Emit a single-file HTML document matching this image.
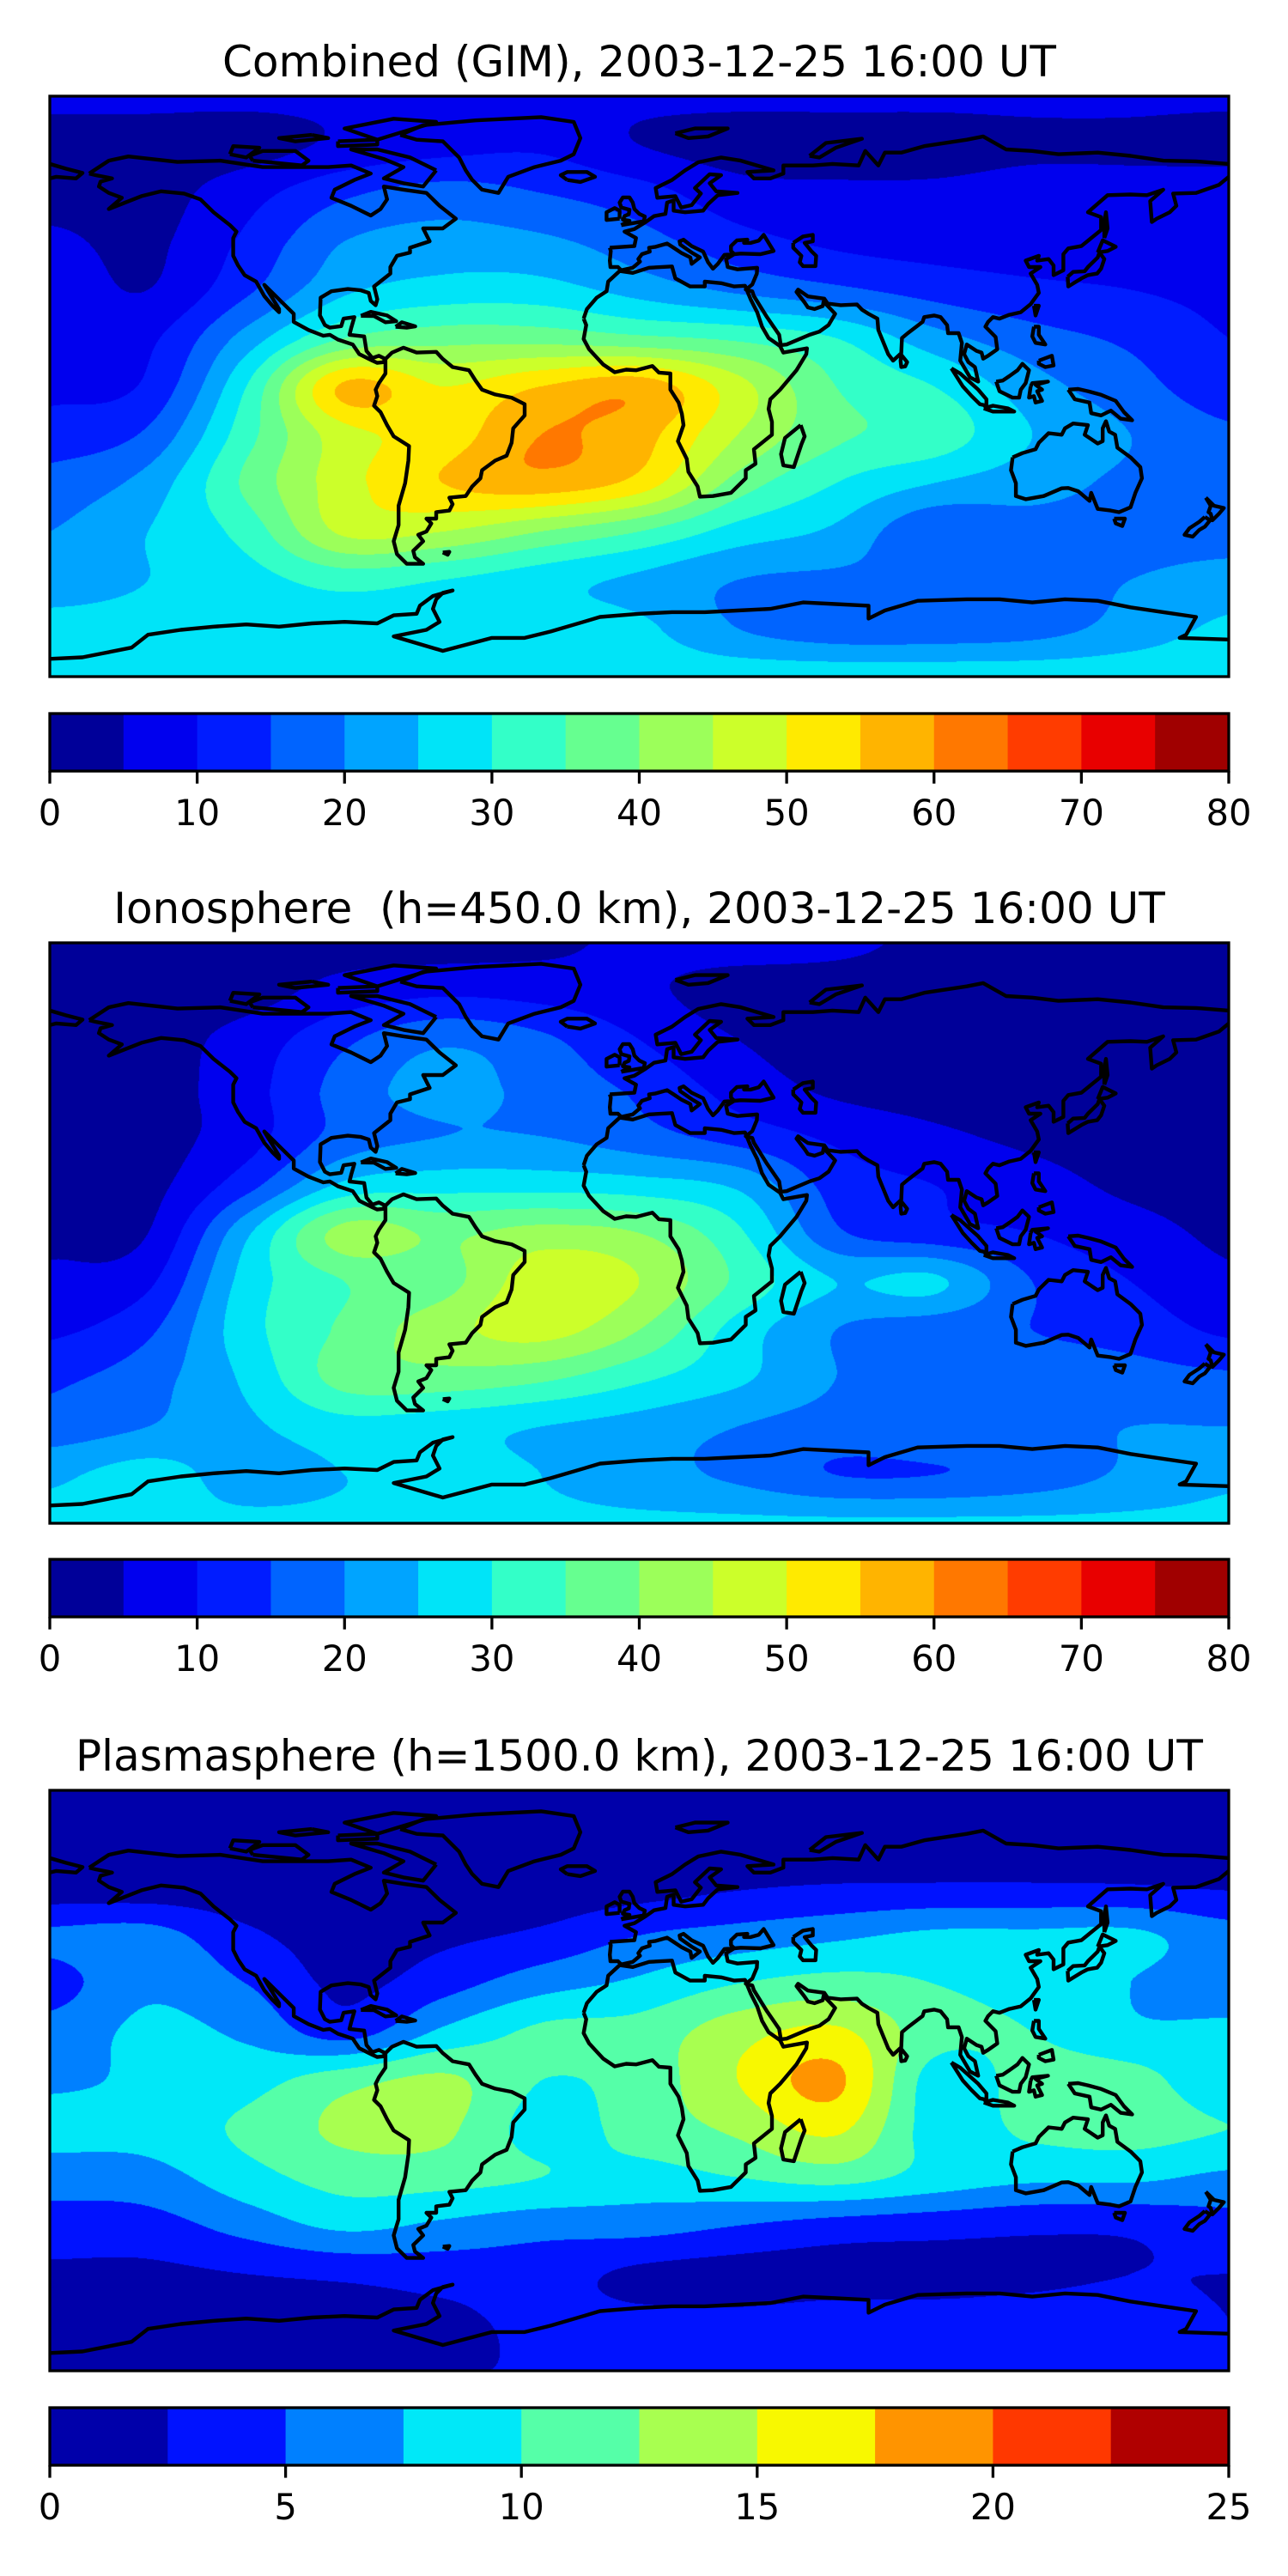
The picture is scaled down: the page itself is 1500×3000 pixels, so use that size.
<!DOCTYPE html>
<html><head><meta charset="utf-8"><title>TEC maps</title>
<style>
html,body{margin:0;padding:0;background:#fff;}
#fig{position:relative;width:1500px;height:3000px;overflow:hidden;background:#fff;font-family:"DejaVu Sans","Liberation Sans",sans-serif;}
.title{position:absolute;left:0;width:1489px;text-align:center;font-size:50px;line-height:50px;color:#000;white-space:pre;}
canvas.map{position:absolute;left:58px;width:1373px;height:676px;}
svg.ov{position:absolute;left:0;top:0;}
</style></head>
<body>
<div id="fig">
  <div class="title" style="top:47px">Combined (GIM), 2003-12-25 16:00 UT</div>
  <div class="title" style="top:1033px">Ionosphere  (h=450.0 km), 2003-12-25 16:00 UT</div>
  <div class="title" style="top:2020px">Plasmasphere (h=1500.0 km), 2003-12-25 16:00 UT</div>
  <canvas id="c1" class="map" width="1373" height="676" style="top:112px"></canvas>
  <canvas id="c2" class="map" width="1373" height="676" style="top:1098px"></canvas>
  <canvas id="c3" class="map" width="1373" height="676" style="top:2085px"></canvas>
  <svg id="ov" class="ov" width="1500" height="3000"></svg>
</div>
<script>
// ---- grid axes ----
const lats=[90,75,60,45,30,15,0,-15,-30,-45,-60,-75,-90];
const lons=[-180,-150,-120,-90,-60,-30,0,30,60,90,120,150,180];
// ---- combined field (TECU) ----
const tecCombined=[
[6,6,6,6,6,6,6,6,6,6,6,6,6],
[3,3,3,6,8,9,5,3,3,3,4,4,3],
[3,3,8,14,17,15,12,7,6,6,7,7,8],
[6,4,11,20,22,21,17,12,9,8,8,9,9],
[8,5,14,24,27,27,23,19,16,13,11,10,9],
[8,9,22,35,38,38,36,34,30,22,17,14,10],
[9,11,30,56,50,55,58,47,35,30,22,17,12],
[12,16,33,48,52,60,57,45,36,33,25,20,16],
[17,22,36,48,55,58,53,38,30,25,22,19,18],
[20,25,32,46,45,40,35,28,24,16,18,18,18],
[22,25,28,32,30,27,24,20,19,19,18,20,22],
[27,27,27,27,27,27,26,20,17,17,18,22,26],
[28,28,28,28,28,28,28,28,28,28,28,28,28]];
// ---- ionosphere field (TECU) ----
const tecIono=[
[3,3,3,3,3,4,6,7,6,4,3,3,3],
[3,3,3,7,9,8,6,3,3,3,3,3,3],
[3,3,7,14,19,16,10,5,3,3,3,3,3],
[3,3,8,17,22,18,14,8,4,3,3,3,3],
[3,3,8,17,20,20,17,13,9,6,4,3,3],
[3,3.5,13,26,28,28,27,24,13,10,7,4,3],
[4,5,24,42,39,42,40,31,16,12,10,7,4],
[6,9,27,35,38,48,45,34,25,26,15,10,6],
[9,14,28,36,43,47,40,28,20,17,15,13,9],
[14,18,26,37,38,36,31,26,20,16,17,17,16],
[17,20,24,28,27,25,23,20,18,19,18,20,20],
[24,27,23,25,27,25,22,19,15,15,17,21,24],
[26,26,26,26,26,26,26,26,26,26,26,26,26]];
// ---- plasmasphere field (TECU) ----
const tecPlasma=[
[1,1,1,1,1,1,1,1,1,1,1,1,1],
[1,1,1,1,1,1,1,1,1,1,1,1,1],
[1,1,1,1,1,1,1.5,2.3,2.7,2.8,2.8,2.7,2.3],
[5.5,6,3,1.5,2,3,5,6,7,8,8,8,6],
[4,7,5,2,4,6.5,8,10,11,10,9,7.5,6],
[6,8,7,4,8,10.5,11,14,15.5,11,10,8,8],
[7,8,9,11.5,13,10,11,15,18,9,11,11,8],
[8.5,8.5,10.5,13,13,9,11,13,15.5,9,10.5,11,10],
[6,6.5,9,11,11,10,9,10,11,9,8,8,7],
[4,4,6,8,7,6,6,5,4,3.5,3,3,4],
[2,2,2.5,3,3.5,3.5,2,1.5,1.5,1.5,2,2.5,2.5],
[1.5,1.5,1.5,1.5,2,3,3,3,3.5,3.5,3.5,3.5,2.5],
[2.5,2.5,2.5,2.5,2.5,2.5,2.5,2.5,2.5,2.5,2.5,2.5,2.5]];
// ---- colour levels ----
const levelsTec=[0,5,10,15,20,25,30,35,40,45,50,55,60,65,70,75,80];
const colorsTec=["#000099","#0000ee","#001cff","#0064ff","#00a4ff","#00e4f8","#33ffc8","#66ff90","#9cff5a","#ccff2a","#ffea00","#ffb400","#ff7800","#ff3c00","#e80000","#a00000"];
const ticksTec=[0,10,20,30,40,50,60,70,80];
const levelsPl=[0,2.5,5,7.5,10,12.5,15,17.5,20,22.5,25];
const colorsPl=["#0000aa","#0012ff","#0080ff","#00e8f8","#55ffa8","#a8ff50","#f8f800","#ff9400","#ff3800","#b00000"];
const ticksPl=[0,5,10,15,20,25];
// ---- coastlines (lon,lat) ----
const coasts=[
[[-168,66],[-162,70],[-156,71.3],[-141,69.6],[-128,70],[-115,68],[-95,68],[-88,68.5],[-82,66],[-87,64],[-93,61],[-94,58.5],[-88,56],[-82,53],[-79,55],[-77,58],[-78,62],[-72,61],[-65,60],[-61,56],[-56,52],[-60,49],[-66,49],[-64,45],[-70,43],[-70,41.5],[-74,40.5],[-76,37],[-76,35],[-81,31],[-80,27],[-80.5,25.2],[-82,26.5],[-82.6,29],[-85,29.8],[-89,30.2],[-94,29.5],[-97.3,27.5],[-97.5,22],[-96,19],[-94.5,18.2],[-91,18.7],[-90.3,21],[-87,21.5],[-88,18],[-88.5,16],[-84,15.5],[-83.3,11],[-81.5,8.8],[-79.5,9.5],[-77.5,8.5],[-78.2,7.5],[-80,7.3],[-81.5,8],[-85.5,10],[-87.5,13],[-92,14.5],[-94.5,16],[-96.5,15.7],[-101,17.5],[-105.5,20],[-105.5,22.5],[-109,26],[-112,29],[-114.5,31.5],[-113,29],[-110,24],[-110,23],[-112,25],[-114.5,28],[-117,32.5],[-120.5,34.5],[-122.5,37.5],[-124,40.5],[-124,46],[-123,48],[-125,50],[-130,54],[-134,58],[-139,59.8],[-146,60.5],[-152,59],[-157,57],[-162,55],[-158,58.5],[-162,60],[-165,62],[-164.5,63.5],[-161,64.5],[-166,65.5],[-168,66]],
[[-73,78],[-66,81],[-50,82.5],[-30,83.5],[-20,82],[-18,77],[-20,72],[-24,70],[-32,68],[-40,65],[-43,60],[-48,61],[-51,64],[-53,67],[-55,71],[-60,76],[-68,76.5],[-73,78]],
[[-62,67],[-66,62],[-72,63],[-78,64.5],[-72,68],[-78,70.5],[-88,73.5],[-80,73.5],[-70,71],[-62,67]],
[[-80,76.5],[-90,80],[-75,83],[-62,82],[-72,79],[-80,76.5]],
[[-118,70],[-103,68.5],[-101,70],[-105,73],[-115,73],[-119,71.5],[-118,70]],
[[-125,72],[-120,71],[-116,74],[-124,74.5],[-125,72]],
[[-92,76],[-80,76.5],[-80,75],[-92,74.5],[-92,76]],
[[-100,78],[-95,77],[-105,76],[-110,77],[-100,78]],
[[-77.5,8.5],[-75.5,10.5],[-72,12],[-68,10.5],[-62,10.7],[-60,8.5],[-57,6],[-52,5],[-50,1.8],[-48,-1],[-44,-2.5],[-39,-3.5],[-35,-5.5],[-35,-9],[-38.5,-13],[-39,-17.5],[-40.5,-21.5],[-44,-23],[-48,-26],[-48.5,-28.5],[-51,-31],[-53,-34],[-58,-34.5],[-57,-36.5],[-58,-38.5],[-62,-39],[-62,-41],[-65,-41],[-63.5,-42.5],[-65,-45],[-67.5,-46],[-66,-48],[-69,-51],[-68.5,-53],[-66,-55],[-71,-55],[-74,-52],[-75,-48],[-73.5,-43],[-73.5,-37],[-71.5,-30],[-70.5,-23],[-70.3,-18.5],[-75,-15.5],[-77,-12],[-79,-8],[-81,-6],[-80,-3],[-80.5,-1],[-79.5,1],[-77.5,4],[-77.5,7],[-77.5,8.5]],
[[-17,21],[-16,24],[-13,27.5],[-10,29.5],[-9.5,32.5],[-6,35.8],[-2,35.2],[3,36.8],[10,37.2],[11,33.5],[15.5,31],[20,31],[20,32.5],[25,32],[29,31],[32.3,31.2],[34,27],[36,23],[37.5,18.5],[39.5,15],[43,12.5],[44,10.5],[51.2,11.8],[51,10],[48,5],[43,-1],[40,-4],[39.5,-7],[40.5,-11],[40.5,-15],[35,-19.5],[35.5,-24],[32.5,-26],[32.5,-28.5],[28,-33],[22.5,-34],[18.5,-34.2],[17.8,-31],[15,-26.5],[14.5,-22.5],[11.8,-17],[13.5,-12],[13,-8.5],[12,-5],[9.5,-1],[9.5,4],[6,4.3],[4,6.3],[-1,5],[-4,5.2],[-7.5,4.4],[-11,6.8],[-13.5,9.5],[-15.3,11.5],[-17,14.7],[-16.2,19],[-17,21]],
[[49.3,-12],[50.5,-15.5],[49.5,-18],[47.2,-25],[44,-24.5],[43.3,-21],[44.5,-16],[49.3,-12]],
[[-9,43],[-1.5,43.5],[-1,46],[-4.5,48],[-1.5,48.8],[2,51],[4.5,52.8],[8,53.5],[8.5,57],[10.5,57.7],[10.5,54.5],[14,54],[19.5,54.5],[21,56.5],[24,59.3],[30,60],[23.5,60.5],[21.5,63],[25,65.5],[21.5,65.8],[17,61.5],[18.8,59.8],[16,56.2],[12.8,55.5],[11,59],[5.5,58.5],[5,61.5],[10,64],[14,67],[18,69.5],[25,71],[31,70],[41,67],[33,66.5],[35,64.5],[40,64.5],[44,66],[44,68.5],[53,68.5],[59,69],[67,68.5],[69,73],[73,68.5],[75,72.5],[80,72.5],[87,74.5],[100,76.5],[105,77.5],[112,73.5],[120,73],[128,72],[140,72.5],[150,71.5],[160,70],[170,69.8],[180,69]],
[[180,65],[177,62.5],[170,60],[163,59.8],[164,56],[162,54],[158,52],[156.5,51],[156,57.5],[160,61],[155,59.3],[150,59.5],[143,59.3],[137,54],[141,52.5],[141,48.5],[135,43.5],[131,42.8],[129.5,41],[129.5,36],[126.5,34.5],[126.5,37.5],[125,39.5],[121.5,39],[122,40.5],[118,39],[119,37],[122.5,37],[119.5,35],[121.5,31.5],[122,29],[119.5,25.5],[116.5,23],[113,22.2],[110,21],[108,21.5],[106.5,20],[105.7,18.5],[108.8,15.3],[109.3,11.5],[106.5,9.5],[105,8.6],[104.5,10.5],[103,11],[100,13],[99.2,10],[100.5,7.5],[102.5,6],[103.5,1.5],[101,2.8],[98,8],[98.5,13.5],[97.5,16.5],[94.3,16.5],[94,19],[92,21.5],[90,22],[87,21.5],[86.5,20],[82,16.5],[80.2,15],[80,10.3],[77.5,8],[76,10],[73,17.5],[72.7,21],[70,22.5],[68,23.8],[66.5,25.4],[61.5,25.2],[57.5,25.7],[56.5,27.2],[51.5,27.9],[48.5,30],[48,29.3],[50.5,26],[51.5,24.5],[53.5,24],[56,24.9],[56.3,26.3],[59.8,22.5],[57.8,19],[55,17],[52,16],[45,13],[43.2,12.8],[42.7,16],[39,21.5],[35,28],[34.5,29.5],[32.5,30],[34.5,31.6],[35.9,35],[36,36.8],[30,36.3],[27,37],[26.5,39.5],[29,41],[28,42],[28,43.5],[29.8,45.3],[33,45.5],[32,44.5],[34,44.5],[36.5,45.2],[38,47],[41,42],[37,41],[31,41.2],[29,41],[26,40.8],[24,38],[22.5,36.5],[21,38.5],[19.5,41.8],[16,43.5],[13.5,45.5],[12.3,45],[12.5,44],[16,41.5],[18.5,40],[16,38],[15.6,40],[13,41.3],[10.5,43],[8.5,44.3],[5,43.3],[3,43],[3.2,41.8],[0.8,41],[-0.3,39.5],[0.2,38.7],[-2,36.8],[-5.5,36],[-6.5,37],[-8.8,37],[-9,39],[-8.7,42],[-9,43]],
[[-180,69],[-175,67.5],[-170,66.2],[-172,64.5],[-178,65],[-180,64.5]],
[[47,44.5],[50,46.5],[53,47],[53,45],[50.5,44.5],[52.5,42],[54,40.5],[53.8,37.3],[50,37.3],[49,38.5],[49.5,40.5],[47,43],[47,44.5]],
[[-5.5,50],[1.4,51.2],[1.7,52.7],[0,53.5],[-1.5,55],[-2,57],[-3,58.6],[-5,58.6],[-6,57],[-5.5,55.5],[-3,54.8],[-3.2,53.4],[-4.5,52.8],[-5,51.7],[-3,51.4],[-5.5,50]],
[[-6,52],[-6,54.5],[-7.5,55.3],[-10,54],[-10,51.6],[-6,52]],
[[-22,64],[-24,65.5],[-22,66.5],[-16,66.5],[-13.5,65],[-18,63.4],[-22,64]],
[[130.8,34],[132.5,35.5],[136,35.7],[137,37],[140,40],[140.5,41.5],[142,39.5],[141,36.5],[139.8,35],[137,34.5],[135,33.5],[131,31],[130.8,34]],
[[140,41.5],[141.5,45.3],[145.5,43.3],[143,42],[140,41.5]],
[[142,46],[143,49],[142.5,54],[142,51],[142,46]],
[[120.5,18.5],[122,18.5],[122,16],[124,13],[121,13.5],[120,15.5],[120.5,18.5]],
[[122,8],[126,9.5],[126.5,6.5],[124,6],[122,7],[122,8]],
[[120.5,25],[122,25],[121,22],[120.5,25]],
[[109,1.5],[110,-1.5],[114,-3.5],[116,-3.5],[116.5,-1],[118,1],[119,5],[117,7],[115.5,5],[113,3.2],[111,1.8],[109,1.5]],
[[95.3,5.6],[98,4],[103.5,-1],[106,-4],[106,-6],[104,-5.5],[101.5,-3],[98.8,0],[95.3,5.6]],
[[105.2,-6.8],[108,-6],[112.5,-6.8],[114.5,-7.8],[108,-7.8],[105.2,-6.8]],
[[119.5,0],[120,1],[124.8,1.5],[121,0.5],[123,-1],[121.5,-1.5],[123,-4.5],[121,-5],[120.5,-3],[119,-3.5],[119.5,0]],
[[131,-1],[134,-0.8],[137,-1.5],[141,-2.6],[145.5,-4.5],[148,-8],[150.5,-10.5],[147,-10],[144,-7.5],[141,-9],[138,-8.3],[137.5,-5],[133,-4],[132,-2.5],[131,-1]],
[[114,-22],[113.5,-26],[115,-30],[115,-34],[118,-35],[123.5,-34],[129,-31.6],[131,-31.5],[134,-32.5],[137.5,-35.5],[138,-33],[140,-38],[144,-38.5],[146.5,-39],[150,-37.5],[151.5,-33],[153.5,-28.5],[153,-25],[150,-22],[146,-19],[145.3,-15],[143.5,-14],[142.5,-10.8],[141.5,-13],[141.5,-17],[140,-17.7],[136,-15],[137,-12],[132.5,-11.5],[130,-13],[129,-15],[125,-14.5],[122,-17.5],[121,-19.5],[117,-20.7],[114,-22]],
[[145,-41],[148.3,-41],[147.5,-43.3],[145.5,-42.5],[145,-41]],
[[173,-34.5],[175.5,-37],[178.5,-37.7],[177,-39.5],[175,-41.5],[174.5,-39.5],[173.8,-39],[174.5,-37],[173,-34.5]],
[[172.7,-40.5],[174.3,-41.5],[172.7,-43.5],[171,-44.5],[169,-46.6],[166.5,-46],[168,-44],[171,-42],[172.7,-40.5]],
[[80,9.8],[81.8,7.5],[81.2,6.2],[80,6],[79.8,8],[80,9.8]],
[[-85,21.9],[-82,23.1],[-77,22],[-74.2,20.2],[-77.5,19.9],[-81,21.8],[-85,21.9]],
[[-74.4,18.5],[-72.5,19.9],[-68.4,18.6],[-71,18.2],[-74.4,18.5]],
[[52,71.5],[57,75.5],[68,76.8],[60,74],[55,71],[52,71.5]],
[[11,78.5],[17,80],[27,80],[21,77.5],[15,77],[11,78.5]],
[[-60,-51.5],[-58,-51.3],[-58.5,-52.2],[-60,-51.5]],
[[-180,-84.5],[-170,-84],[-155,-81],[-150,-77],[-140,-75.5],[-130,-74.5],[-120,-73.8],[-110,-74.5],[-100,-73.5],[-90,-73],[-80,-73.5],[-75,-71],[-68,-70.5],[-67,-68],[-63,-65],[-57,-63.3],[-60,-64],[-62,-66],[-63,-69],[-61,-73],[-65,-75.5],[-75,-77.5],[-60,-82],[-45,-78],[-35,-78],[-27,-76],[-17,-73],[-12,-71.5],[0,-70.5],[10,-70],[20,-70],[30,-69.5],[40,-69],[50,-67],[60,-67.5],[70,-68],[70,-72],[75,-69.5],[85,-66.5],[100,-66],[110,-66],[120,-67],[130,-66],[140,-66.5],[150,-68.5],[160,-70],[170,-71.5],[167,-77],[165,-78],[180,-78.5]]
];

const MAP_L=58, MAP_W=1373, MAP_H=676;
const panels=[
 {canvas:'c1',top:112,grid:tecCombined,levels:levelsTec,colors:colorsTec,ticks:ticksTec,cbTop:831,cbH:67,name:'combined'},
 {canvas:'c2',top:1098,grid:tecIono,levels:levelsTec,colors:colorsTec,ticks:ticksTec,cbTop:1816,cbH:67,name:'ionosphere'},
 {canvas:'c3',top:2085,grid:tecPlasma,levels:levelsPl,colors:colorsPl,ticks:ticksPl,cbTop:2804,cbH:67,name:'plasmasphere'}
];
function xLon(lon){return MAP_L+(lon+180)/360*MAP_W;}
function yLat(lat,top){return top+(90-lat)/180*MAP_H;}
function cr(p0,p1,p2,p3,t){return 0.5*((2*p1)+(-p0+p2)*t+(2*p0-5*p1+4*p2-p3)*t*t+(-p0+3*p1-3*p2+p3)*t*t*t);}
function hexRgb(h){return [parseInt(h.substr(1,2),16),parseInt(h.substr(3,2),16),parseInt(h.substr(5,2),16)];}
function sample(grid,lon,lat){
  const u=(lon-lons[0])/(lons[1]-lons[0]);
  const v=(lats[0]-lat)/(lats[0]-lats[1]);
  const nx=lons.length, ny=lats.length;
  const i=Math.min(Math.floor(u),nx-2), j=Math.min(Math.floor(v),ny-2);
  const tu=u-i, tv=v-j;
  const rows=[];
  for(let k=-1;k<=2;k++){
    const r=grid[Math.max(0,Math.min(ny-1,j+k))];
    const c=q=>r[Math.max(0,Math.min(nx-1,q))];
    rows.push(cr(c(i-1),c(i),c(i+1),c(i+2),tu));
  }
  return cr(rows[0],rows[1],rows[2],rows[3],tv);
}
function drawField(p){
  const cv=document.getElementById(p.canvas);
  const ctx=cv.getContext('2d');
  const W=cv.width,H=cv.height;
  const img=ctx.createImageData(W,H);
  const rgb=p.colors.map(hexRgb);
  const lv=p.levels, n=p.colors.length;
  for(let y=0;y<H;y++){
    const lat=90-(y+0.5)/H*180;
    for(let x=0;x<W;x++){
      const lon=-180+(x+0.5)/W*360;
      const val=sample(p.grid,lon,lat);
      let k=0; while(k<n-1 && val>=lv[k+1]) k++;
      const c=rgb[k], o=(y*W+x)*4;
      img.data[o]=c[0];img.data[o+1]=c[1];img.data[o+2]=c[2];img.data[o+3]=255;
    }
  }
  ctx.putImageData(img,0,0);
}
const NS='http://www.w3.org/2000/svg';
const ov=document.getElementById('ov');
function mk(tag,attrs){const e=document.createElementNS(NS,tag);for(const k in attrs)e.setAttribute(k,attrs[k]);return e;}
panels.forEach((p,pi)=>{
  drawField(p);
  const cp=mk('clipPath',{id:'clip'+pi});
  cp.appendChild(mk('rect',{x:MAP_L,y:p.top,width:MAP_W,height:MAP_H}));
  ov.appendChild(cp);
  const g=mk('g',{'clip-path':'url(#clip'+pi+')'});
  
  
  coasts.forEach(line=>{
    const d=line.map((pt,k)=>(k?'L':'M')+xLon(pt[0]).toFixed(1)+' '+yLat(pt[1],p.top).toFixed(1)).join('');
    const path=mk('path',{d:d,fill:'none',stroke:'#000','stroke-width':4.4,'stroke-linejoin':'round'});
    
    
    g.appendChild(path);
  });
  ov.appendChild(g);
  const frame=mk('rect',{x:MAP_L,y:p.top,width:MAP_W,height:MAP_H,fill:'none',stroke:'#000','stroke-width':3.3});
  
  
  ov.appendChild(frame);
  const lv=p.levels, lo=lv[0], hi=lv[lv.length-1];
  const cx=v=>MAP_L+(v-lo)/(hi-lo)*MAP_W;
  const cb=mk('g',{});
  
  
  p.colors.forEach((c,k)=>{
    const r=mk('rect',{x:cx(lv[k]),y:p.cbTop,width:cx(lv[k+1])-cx(lv[k])+0.5,height:p.cbH,fill:c});
    
    
    cb.appendChild(r);
  });
  cb.appendChild(mk('rect',{x:MAP_L,y:p.cbTop,width:MAP_W,height:p.cbH,fill:'none',stroke:'#000','stroke-width':3.3}));
  p.ticks.forEach(t=>{
    const x=cx(t);
    const tk=mk('line',{x1:x,x2:x,y1:p.cbTop+p.cbH,y2:p.cbTop+p.cbH+14.6,stroke:'#000','stroke-width':3.3});
    
    
    cb.appendChild(tk);
    const tx=mk('text',{x:x,y:p.cbTop+p.cbH+63,'text-anchor':'middle','font-size':41.7,'font-family':'DejaVu Sans, Liberation Sans, sans-serif',fill:'#000'});
    tx.textContent=String(t);
    
    
    cb.appendChild(tx);
  });
  ov.appendChild(cb);
});
</script>
</body></html>
